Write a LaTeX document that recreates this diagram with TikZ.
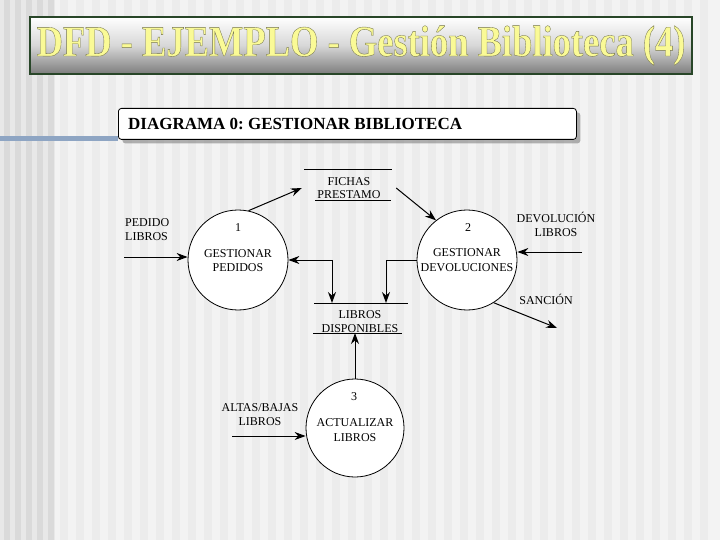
\documentclass[tikz,border=0pt]{standalone}
\usepackage{fontspec}
\setmainfont{Liberation Serif}
\usetikzlibrary{arrows.meta,calc,shadows}
\definecolor{bgbase}{RGB}{243,243,243}
\definecolor{bgleft}{RGB}{232,232,232}
\definecolor{stripedark}{RGB}{218,218,218}
\definecolor{stripelight}{RGB}{236,236,236}
\definecolor{blueline}{RGB}{142,165,195}
\definecolor{titleborder}{RGB}{40,70,40}
\definecolor{titletext}{RGB}{250,250,150}
\definecolor{titlebottom}{RGB}{125,125,125}
\definecolor{titlemid}{RGB}{215,215,215}
\newcommand{\mytitletext}{\scalebox{1}[1.2]{\fontsize{36.5}{40}\selectfont\bfseries\special{pdf:literal direct 2 Tr 0.3 w 0.45 0.45 0.3 RG}DFD - EJEMPLO - Gestión Biblioteca (4)\special{pdf:literal direct 0 Tr}}}
\begin{document}
\frenchspacing
\begin{tikzpicture}[x=1pt,y=-1pt,
  lbl/.style={font=\fontsize{12}{14.5}\selectfont, align=center, inner sep=0pt},
  proc/.style={circle, draw, fill=white, line width=0.8pt, inner sep=0pt},
  store/.style={inner sep=0pt, minimum height=20pt, font=\fontsize{12}{13.5}\selectfont, align=center},
  arr/.style={-{Stealth[length=11pt,width=8pt]}, line width=1pt},
  darr/.style={{Stealth[length=11pt,width=8pt]}-{Stealth[length=11pt,width=8pt]}, line width=1pt},
  sline/.style={line width=1pt}]
\useasboundingbox (0,0) rectangle (720,540);
% background
\fill[bgbase] (0,0) rectangle (720,540);
\fill[bgleft] (0,0) rectangle (55,540);
\foreach \x in {4,15,...,48} \fill[stripedark] (\x,0) rectangle ++(6,540);
\foreach \x in {60,76,...,712} \fill[stripelight] (\x,0) rectangle ++(8,540);
% title
\node[draw=titleborder, line width=1.2pt, top color=white, bottom color=titlebottom, middle color=titlemid,
      minimum width=662pt, minimum height=57pt, inner sep=0pt] (title) at (361,45.5) {};
\node[inner sep=0pt, text=titletext] (titletxt) at (361,45.5) {\mytitletext};
% blue line and header
\draw[blueline, line width=5pt] (0,138.5) -- (118,138.5);
\node[draw, fill=white, rounded corners=3pt, line width=0.8pt, minimum width=458pt, minimum height=31pt,
      anchor=north west, inner sep=0pt,
      drop shadow={shadow xshift=4pt, shadow yshift=-4pt, fill=gray, opacity=0.6}] (hdr) at (118,108) {};
\node[anchor=west, inner sep=0pt, font=\fontsize{17}{20}\selectfont\bfseries] (hdrtxt) at (128,124) {DIAGRAMA 0: GESTIONAR BIBLIOTECA};
% processes
\node[proc, minimum size=100pt] (c1) at (238,260) {};
\node[proc, minimum size=100pt] (c2) at (467,260) {};
\node[proc, minimum size=98pt] (c3) at (355,428) {};
\node[lbl] (n1) at (238,228) {1};
\node[lbl] (t1) at (238,260.5) {GESTIONAR\\PEDIDOS};
\node[lbl] (n2) at (468,228) {2};
\node[lbl] (t2) at (467,260) {GESTIONAR\\DEVOLUCIONES};
\node[lbl] (n3) at (354,397) {3};
\node[lbl] (t3) at (355,430) {ACTUALIZAR\\LIBROS};
% stores
\node[store, minimum width=94pt] (fichas) at (349,188) {FICHAS\\PRESTAMO};
\draw[sline] ($(fichas.center)+(-45,-18)$) -- ($(fichas.center)+(43,-18)$);
\draw[sline] ($(fichas.center)+(-34,13)$) -- ($(fichas.center)+(42,13)$);
\node[store, minimum width=94pt] (libros) at (360,321.5) {LIBROS\\DISPONIBLES};
\coordinate (lbtop) at ($(libros.center)+(0,-18.5)$);
\coordinate (lbbot) at ($(libros.center)+(0,11.5)$);
\draw[sline] ($(lbtop)+(-46,0)$) -- ($(lbtop)+(48,0)$);
\draw[sline] ($(lbbot)+(-47,0)$) -- ($(lbbot)+(42,0)$);
% external labels
\node[lbl, align=left, anchor=west] (lpedido) at (125,229.5) {PEDIDO\\LIBROS};
\node[lbl] (ldevol) at (556,224.5) {DEVOLUCIÓN\\LIBROS};
\node[lbl] (lsancion) at (546,299) {SANCIÓN};
\node[lbl] (laltas) at (260,414.5) {ALTAS/BAJAS\\LIBROS};
% flows
\coordinate (inA) at (124,257);
\draw[arr] (inA) -- (inA -| c1.west);
\draw[arr] (c1.78) -- (fichas.west);
\draw[arr] (fichas.east) -- (c2.128);
\coordinate (inB) at (582,252);
\draw[arr] (inB) -- (inB -| c2.east);
\coordinate (sanc) at (557,328);
\draw[arr] (c2.-58) -- (sanc);
\draw[darr] (c1.east) -| ($(lbtop)+(-28,0)$);
\draw[arr] (c2.west) -| ($(lbtop)+(26,0)$);
\draw[arr] (c3.north) -- (c3.north |- lbbot);
\coordinate (inC) at (232,436);
\draw[arr] (inC) -- (inC -| c3.west);
\end{tikzpicture}
\end{document}
